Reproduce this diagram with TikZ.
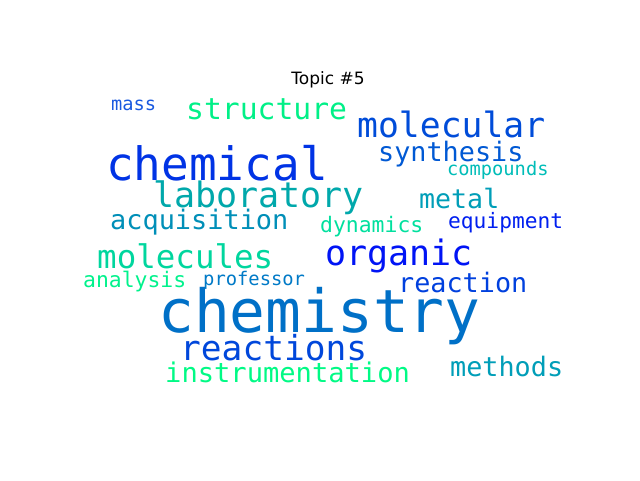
\documentclass[tikz,border=0pt]{standalone}
\usepackage{fontspec}
\setmainfont{DejaVu Sans}
\newfontfamily\wcfont{DejaVu Sans Mono}
\newcommand\fsz[1]{\fontsize{#1}{#1}\selectfont}
\tikzset{word/.style={anchor=base west, inner sep=0pt, font=\wcfont}}
\begin{document}
\begin{tikzpicture}[x=1pt,y=-1pt]
\useasboundingbox[fill=white] (0,0) rectangle (640,480);
\node[anchor=base, inner sep=0pt, font=\fsz{17}] (title) at (328,84) {Topic \#5};
\node[word, text={rgb,1:red,0;green,0.44;blue,0.78}] (chemistry) at (158,332) {\fsz{59.5}chemistry};
\node[word, text={rgb,1:red,0;green,0.20;blue,0.90}] (chemical) at (106,180) {\fsz{46}chemical};
\node[word, text={rgb,1:red,0;green,0.66;blue,0.67}] (laboratory) at (153,207) {\fsz{35}laboratory};
\node[word, text={rgb,1:red,0;green,0.94;blue,0.53}] (structure) at (186,119) {\fsz{29.7}structure};
\node[word, text={rgb,1:red,0.1;green,0.35;blue,0.88}] (mass) at (111,110) {\fsz{18.7}mass};
\node[word, text={rgb,1:red,0;green,0.56;blue,0.72}] (acquisition) at (110,229) {\fsz{26.9}acquisition};
\node[word, text={rgb,1:red,0;green,0.30;blue,0.85}] (molecular) at (357,137) {\fsz{34.7}molecular};
\node[word, text={rgb,1:red,0;green,0.35;blue,0.83}] (synthesis) at (378,161) {\fsz{26.8}synthesis};
\node[word, text={rgb,1:red,0;green,0.74;blue,0.72}] (compounds) at (447,175) {\fsz{18.7}compounds};
\node[word, text={rgb,1:red,0;green,0.62;blue,0.72}] (metal) at (419,208) {\fsz{26.6}metal};
\node[word, text={rgb,1:red,0;green,0.88;blue,0.62}] (dynamics) at (320,232) {\fsz{21.4}dynamics};
\node[word, text={rgb,1:red,0;green,0.12;blue,0.94}] (equipment) at (448,228) {\fsz{21.2}equipment};
\node[word, text={rgb,1:red,0;green,0.08;blue,0.96}] (organic) at (325,265) {\fsz{35}organic};
\node[word, text={rgb,1:red,0;green,0.25;blue,0.87}] (reaction) at (398,292) {\fsz{26.8}reaction};
\node[word, text={rgb,1:red,0;green,0.62;blue,0.72}] (methods) at (450,376) {\fsz{26.8}methods};
\node[word, text={rgb,1:red,0;green,0.84;blue,0.62}] (molecules) at (97,268) {\fsz{32.5}molecules};
\node[word, text={rgb,1:red,0;green,0.95;blue,0.55}] (analysis) at (83,287) {\fsz{21.4}analysis};
\node[word, text={rgb,1:red,0;green,0.48;blue,0.78}] (professor) at (203,285) {\fsz{18.8}professor};
\node[word, text={rgb,1:red,0;green,0.28;blue,0.86}] (reactions) at (180,360) {\fsz{34.5}reactions};
\node[word, text={rgb,1:red,0;green,0.98;blue,0.52}] (instrumentation) at (165,382) {\fsz{27.1}instrumentation};
\end{tikzpicture}
\end{document}
